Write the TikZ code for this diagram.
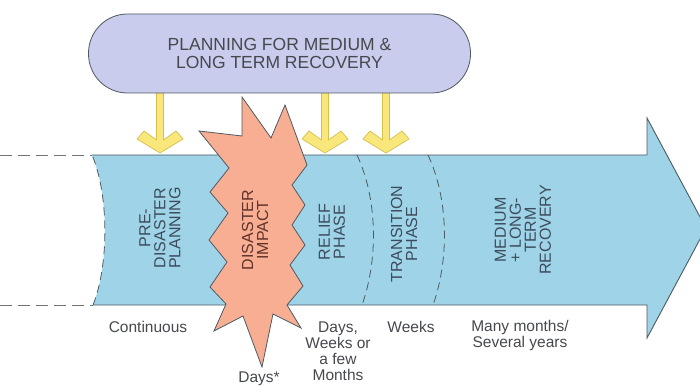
\documentclass[tikz,border=0pt]{standalone}
\usepackage{fontspec}
\setmainfont{Liberation Sans}
\usetikzlibrary{positioning}
\definecolor{planfill}{HTML}{C9CCEC}
\definecolor{bodyfill}{HTML}{9FD3E8}
\definecolor{starfill}{HTML}{F7AE93}
\definecolor{yfill}{HTML}{F9E77C}
\definecolor{yline}{HTML}{D6BF4C}
\definecolor{edge}{HTML}{4E5A62}
\definecolor{phasetxt}{HTML}{3C4C5C}
\definecolor{impacttxt}{HTML}{62332A}
\definecolor{spantxt}{HTML}{45494E}

\begin{document}
\begin{tikzpicture}
  [x=1pt,y=-1pt,
   plan/.style={draw=edge,fill=planfill,line width=0.8pt,rounded corners=39pt,
     minimum width=382pt,minimum height=79pt,align=center,text=spantxt,
     font=\fontsize{17.5}{18}\selectfont},
   yarrow/.style={fill=yfill,draw=yline,line width=0.7pt,line join=round},
   edgeline/.style={draw=edge,line width=0.9pt},
   divider/.style={draw=edge,line width=0.8pt,dash pattern=on 8pt off 5pt},
   extline/.style={draw=gray!90!black,line width=0.9pt,dash pattern=on 12pt off 6pt},
   phase/.style={rotate=90,align=center,text=phasetxt,
     font=\fontsize{16}{15}\selectfont},
   span/.style={align=center,text=spantxt,font=\fontsize{15.5}{16}\selectfont}]
  \useasboundingbox (0,0) rectangle (700,387);

  % yellow arrows under the planning box
  \foreach \ax in {160,325,386}
    \filldraw[yarrow] (\ax-3.5,90) -- (\ax-3.5,140) -- (\ax-16,131) -- (\ax-23,139)
      -- (\ax,153) -- (\ax+23,139) -- (\ax+16,131) -- (\ax+3.5,140) -- (\ax+3.5,90) -- cycle;

  \node[plan] (plan) at (279.5,53.5) {PLANNING FOR MEDIUM \&\\LONG TERM RECOVERY};

  % timeline arrow
  \fill[bodyfill] (92,155) -- (647,155) -- (647,118) -- (706,228) -- (647,338)
    -- (647,305) -- (93,305) .. controls (109,265) and (109,195) .. (92,155) -- cycle;
  \draw[edgeline] (92,155) -- (647,155) -- (647,118) -- (706,228) -- (647,338)
    -- (647,305) -- (93,305);
  \draw[divider] (93,305) .. controls (109,265) and (109,195) .. (92,155);
  \draw[divider] (357,155) .. controls (378,200) and (378,260) .. (362,305);
  \draw[divider] (428,155) .. controls (449,200) and (449,260) .. (433,305);
  \draw[extline] (0,155) -- (92,155);
  \draw[extline] (0,305) -- (93,305);

  % disaster star
  \filldraw[fill=starfill,draw=edge,line width=0.8pt,line join=miter]
    (199,131) -- (242,136) -- (242,97) -- (271,138) -- (285,105) -- (307,165)
    -- (292,185) -- (305,205) -- (292,225) -- (305,245) -- (290,265) -- (303,286)
    -- (287,305) -- (301,328) -- (273,314) -- (262,367) -- (243,316) -- (214,331)
    -- (226,304) -- (210,287) -- (227,262) -- (209,240) -- (228,213) -- (210,192)
    -- (229,168) -- cycle;

  \node[phase] (pre) at (160,228) {PRE-\\DISASTER\\PLANNING};
  \node[phase,text=impacttxt] (impact) at (255,230) {DISASTER\\IMPACT};
  \node[phase] (relief) at (332,232) {RELIEF\\PHASE};
  \node[phase] (transition) at (404,234) {TRANSITION\\PHASE};
  \node[phase] (recovery) at (523,230) {MEDIUM\\+ LONG-\\TERM\\RECOVERY};

  \node[span] (continuous) at (148,327) {Continuous};
  \node[span] (days) at (338,351) {Days,\\Weeks or\\a few\\Months};
  \node[span] (weeks) at (411,327) {Weeks};
  \node[span] (years) at (520,335) {Many months/\\Several years};
  \node[span] (daysstar) at (259,379) {Days*};

\end{tikzpicture}
\end{document}
